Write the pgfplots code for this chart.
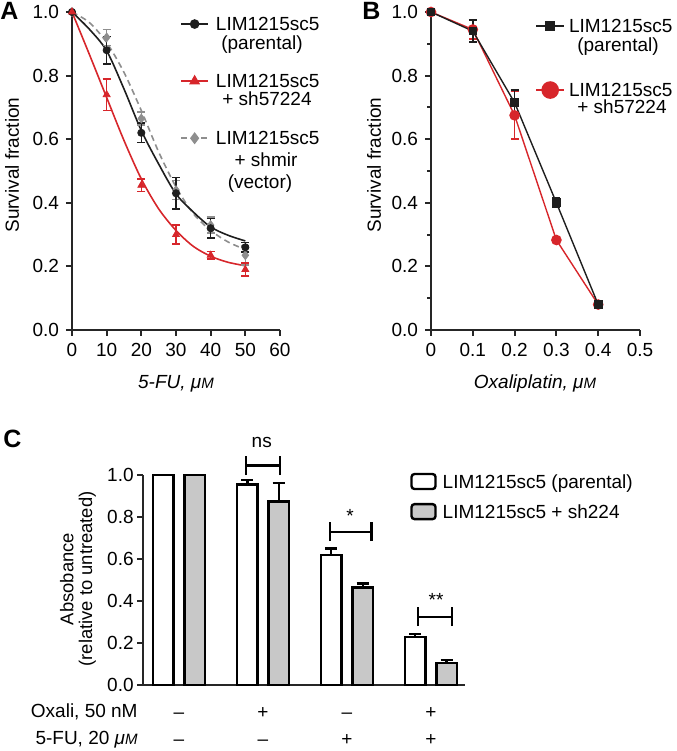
\documentclass[border=0pt]{standalone}
\usepackage{pgfplots}
\pgfplotsset{compat=1.18}
\usepackage{fontspec}
\setmainfont{Liberation Sans}

\definecolor{cBlk}{HTML}{1E1E1E}
\definecolor{cRed}{HTML}{D7262B}
\definecolor{cGry}{HTML}{8E8E8E}
\definecolor{cBar}{HTML}{C8C8C8}
\definecolor{cAx}{HTML}{262626}

\newcommand\lfont{\fontsize{9.5}{11.5}\selectfont}
\newcommand\um{\textit{μ}{\fontsize{7.5}{9}\selectfont\itshape M}}

\begin{document}
\begin{tikzpicture}
\useasboundingbox (0pt,0pt) rectangle (338pt,375.5pt);
\pgfplotsset{
  panel/.style={
    scale only axis, axis lines=left, clip=false,
    axis line style={-, line width=1pt, cAx},
    tick align=outside, major tick length=3pt, minor tick length=2pt,
    tick style={line width=1pt, cAx},
    tick label style={font=\lfont, /pgf/number format/assume math mode=true},
    yticklabel style={/pgf/number format/fixed, /pgf/number format/fixed zerofill,
                      /pgf/number format/precision=1},
    legend style={draw=none, fill=none, font=\lfont, inner sep=0pt, row sep=0pt,
                  column sep=0pt, cells={inner sep=0pt}},
  },
}

% ============ Panel A: 5-FU dose response ============
\begin{axis}[panel, at={(36pt,210.5pt)}, anchor=south west,
  width=104pt, height=159pt,
  xmin=0, xmax=60, ymin=0, ymax=1,
  xtick={0,10,20,30,40,50,60}, ytick={0,0.2,0.4,0.6,0.8,1},
  legend style={at={(0.519,1.006)}, anchor=north west, row sep=15pt,
                column sep=1.5pt},
  legend cell align=left,
  legend image code/.code={\draw[mark repeat=2,mark phase=2,#1]
     plot coordinates {(0pt,0pt) (6.75pt,0pt) (13.5pt,0pt)};},
]
\addlegendimage{cBlk, line width=0.8pt, mark=*, mark size=2pt}
\addlegendentry{\strut LIM1215sc5}
\addlegendimage{cRed, line width=0.8pt, mark=triangle*, mark size=2.4pt}
\addlegendentry{\strut LIM1215sc5}
\addlegendimage{cGry, line width=0.8pt, densely dashed, mark=diamond*, mark size=2.4pt,
                mark options={solid}}
\addlegendentry{\strut LIM1215sc5}

% fitted curves
\addplot[cGry, line width=0.8pt, densely dashed, smooth, forget plot] coordinates {
  (0,1.0) (5,0.967) (10,0.904) (15,0.81) (20,0.69) (25,0.56)
  (30,0.45) (35,0.366) (40,0.313) (45,0.277) (50,0.253)};
\addplot[cBlk, line width=0.8pt, smooth, forget plot] coordinates {
  (0,1.0) (5,0.946) (10,0.878) (15,0.758) (20,0.627) (25,0.522)
  (30,0.428) (35,0.371) (40,0.324) (45,0.298) (50,0.28)};
\addplot[cRed, line width=0.8pt, smooth, forget plot] coordinates {
  (0,1.0) (5,0.867) (10,0.731) (15,0.596) (20,0.475) (25,0.381)
  (30,0.313) (35,0.263) (40,0.232) (45,0.213) (50,0.202)};

% measured points
\addplot[only marks, cGry, mark=diamond*, mark size=2.2pt, forget plot,
  error bars/.cd, y dir=both, y explicit,
  error bar style={line width=0.8pt},
  error mark options={rotate=90, mark size=2pt, line width=0.8pt}]
  coordinates {(0,1.0) +- (0,0) (10,0.92) +- (0,0.025) (20,0.665) +- (0,0.02)
               (30,0.44) +- (0,0.03) (40,0.33) +- (0,0.025) (50,0.235) +- (0,0.03)};
\addplot[only marks, cBlk, mark=*, mark size=1.8pt, forget plot,
  error bars/.cd, y dir=both, y explicit,
  error bar style={line width=0.8pt},
  error mark options={rotate=90, mark size=2pt, line width=0.8pt}]
  coordinates {(0,1.0) +- (0,0) (10,0.88) +- (0,0.043) (20,0.62) +- (0,0.03)
               (30,0.43) +- (0,0.05) (40,0.32) +- (0,0.03) (50,0.26) +- (0,0.015)};
\addplot[only marks, cRed, mark=triangle*, mark size=2pt, forget plot,
  error bars/.cd, y dir=both, y explicit,
  error bar style={line width=0.8pt},
  error mark options={rotate=90, mark size=2pt, line width=0.8pt}]
  coordinates {(0,1.0) +- (0,0) (10,0.74) +- (0,0.05) (20,0.455) +- (0,0.02)
               (30,0.30) +- (0,0.03) (40,0.235) +- (0,0.012) (50,0.19) +- (0,0.02)};
\end{axis}

% ============ Panel B: oxaliplatin dose response ============
\begin{axis}[panel, at={(215.5pt,210.5pt)}, anchor=south west,
  width=104.5pt, height=159pt,
  xmin=0, xmax=0.5, ymin=0, ymax=1,
  xtick={0,0.1,0.2,0.3,0.4,0.5}, ytick={0,0.2,0.4,0.6,0.8,1},
  minor ytick={0.1,0.3,0.5,0.7,0.9},
  xticklabel style={/pgf/number format/fixed, /pgf/number format/precision=1},
  legend style={at={(0.4976,1.0)}, anchor=north west, row sep=18.5pt,
                column sep=0pt},
  legend cell align=left,
  legend image code/.code={\draw[mark repeat=2,mark phase=2,#1]
     plot coordinates {(0pt,0pt) (7pt,0pt) (14pt,0pt)};},
]
\addlegendimage{cBlk, line width=0.8pt, mark=square*, mark size=2pt}
\addlegendentry{\strut LIM1215sc5}
\addlegendimage{cRed, line width=0.8pt, mark=*, mark size=4pt}
\addlegendentry{\strut LIM1215sc5}

\addplot[cRed, line width=0.7pt, mark=*, mark size=2.3pt, forget plot,
  error bars/.cd, y dir=both, y explicit,
  error bar style={line width=0.8pt},
  error mark options={rotate=90, mark size=2pt, line width=0.8pt}]
  coordinates {(0,1.0) +- (0,0) (0.1,0.945) +- (0,0.03) (0.2,0.675) +- (0,0.075)
               (0.3,0.283) +- (0,0) (0.4,0.08) +- (0,0)};
\addplot[cBlk, line width=0.7pt, mark=square*, mark size=1.8pt, forget plot,
  error bars/.cd, y dir=both, y explicit,
  error bar style={line width=0.8pt},
  error mark options={rotate=90, mark size=2pt, line width=0.8pt}]
  coordinates {(0,1.0) +- (0,0) (0.1,0.94) +- (0,0.035) (0.2,0.715) +- (0,0.04)
               (0.3,0.40) +- (0,0.015) (0.4,0.08) +- (0,0.01)};
\end{axis}

% ============ Panel C: absorbance bars ============
% bars placed at group centre -/+ 0.187 (white / grey)
\begin{axis}[panel, at={(71.5pt,33pt)}, anchor=south west,
  width=161pt, height=105pt,
  xmin=0.571, xmax=4.405, ymin=0, ymax=1,
  xtick=\empty, ytick={0,0.2,0.4,0.6,0.8,1},
  yticklabel style={inner sep=1.5pt},
  legend style={at={(0.829,1.033)}, anchor=north west, row sep=1.5pt,
                column sep=1pt},
  legend cell align=left,
  legend image code/.code={\draw[#1, rounded corners=1.5pt]
     (0pt,-3.5pt) rectangle (12pt,4pt);},
]
\addplot[ybar, bar width=10.2pt, bar shift=0pt, draw=black, fill=white,
  line width=1.2pt,
  error bars/.cd, y dir=plus, y explicit,
  error bar style={line width=1.2pt},
  error mark options={rotate=90, mark size=3pt, line width=1.2pt}]
  coordinates {(0.813,1.0) +- (0,0) (1.813,0.955) +- (0,0.02)
               (2.813,0.62) +- (0,0.03) (3.813,0.23) +- (0,0.012)};
\addlegendentry{\strut LIM1215sc5 (parental)}
\addplot[ybar, bar width=10.2pt, bar shift=0pt, draw=black, fill=cBar,
  line width=1.2pt,
  error bars/.cd, y dir=plus, y explicit,
  error bar style={line width=1.2pt},
  error mark options={rotate=90, mark size=3pt, line width=1.2pt}]
  coordinates {(1.187,1.0) +- (0,0) (2.187,0.873) +- (0,0.09)
               (3.187,0.465) +- (0,0.018) (4.187,0.105) +- (0,0.015)};
\addlegendentry{\strut LIM1215sc5 + sh224}

% significance brackets
\draw[line width=1.2pt] (axis cs:1.794,1.0) -- (axis cs:1.794,1.09)
  (axis cs:1.794,1.045) -- (axis cs:2.202,1.045)
  (axis cs:2.202,1.0) -- (axis cs:2.202,1.09);
\node[font=\lfont, anchor=base] at (axis cs:1.985,1.133) {ns};
\draw[line width=1.2pt] (axis cs:2.798,0.685) -- (axis cs:2.798,0.775)
  (axis cs:2.798,0.73) -- (axis cs:3.294,0.73)
  (axis cs:3.294,0.685) -- (axis cs:3.294,0.775);
\node[font=\lfont, anchor=base] at (axis cs:3.036,0.776) {*};
\draw[line width=1.2pt] (axis cs:3.845,0.28) -- (axis cs:3.845,0.37)
  (axis cs:3.845,0.324) -- (axis cs:4.25,0.324)
  (axis cs:4.25,0.28) -- (axis cs:4.25,0.37);
\node[font=\lfont, anchor=base] at (axis cs:4.06,0.376) {**};

% treatment table
\node[font=\lfont, anchor=base, yshift=-16.5pt] at (axis cs:1,0) {–};
\node[font=\lfont, anchor=base, yshift=-16.5pt] at (axis cs:2,0) {+};
\node[font=\lfont, anchor=base, yshift=-16.5pt] at (axis cs:3,0) {–};
\node[font=\lfont, anchor=base, yshift=-16.5pt] at (axis cs:4,0) {+};
\node[font=\lfont, anchor=base, yshift=-30pt] at (axis cs:1,0) {–};
\node[font=\lfont, anchor=base, yshift=-30pt] at (axis cs:2,0) {–};
\node[font=\lfont, anchor=base, yshift=-30pt] at (axis cs:3,0) {+};
\node[font=\lfont, anchor=base, yshift=-30pt] at (axis cs:4,0) {+};
\end{axis}

% legend continuation lines
\node[font=\lfont, anchor=base] at (131pt,350.75pt) {(parental)};
\node[font=\lfont, anchor=base] at (133.5pt,322.75pt) {+ sh57224};
\node[font=\lfont, anchor=base] at (133pt,292.25pt) {+ shmir};
\node[font=\lfont, anchor=base] at (130pt,281pt) {(vector)};
\node[font=\lfont, anchor=base] at (309pt,349.75pt) {(parental)};
\node[font=\lfont, anchor=base] at (311pt,318.75pt) {+ sh57224};

% labels
\node[font=\fontsize{12.5}{14}\selectfont\bfseries, anchor=base west, inner sep=0pt]
  at (0pt,365.5pt) {A};
\node[font=\fontsize{12.5}{14}\selectfont\bfseries, anchor=base west, inner sep=0pt]
  at (181pt,365.5pt) {B};
\node[font=\fontsize{12.5}{14}\selectfont\bfseries, anchor=base west, inner sep=0pt]
  at (1.5pt,151.5pt) {C};
\node[font=\lfont, rotate=90] at (6pt,293pt) {Survival fraction};
\node[font=\lfont, rotate=90] at (187pt,293pt) {Survival fraction};
\node[font=\lfont\itshape, anchor=base] at (88pt,181pt) {5-FU, \um};
\node[font=\lfont\itshape, anchor=base] at (267.5pt,181pt) {Oxaliplatin, \um};
\node[font=\fontsize{9.2}{9.4}\selectfont, rotate=90, align=center] at (39pt,86pt)
  {Absobance\\(relative to untreated)};
\node[font=\lfont, anchor=base east, inner sep=0pt] at (69pt,16.5pt) {Oxali, 50 nM};
\node[font=\lfont, anchor=base east, inner sep=0pt] at (69pt,3pt) {5-FU, 20 \um};
\end{tikzpicture}
\end{document}
